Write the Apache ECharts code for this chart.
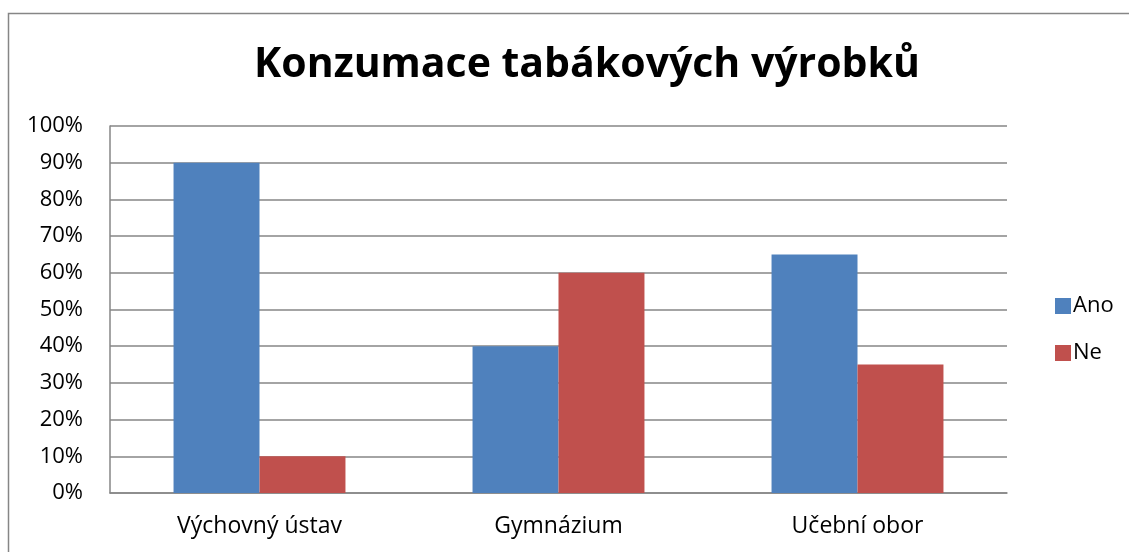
<!DOCTYPE html>
<html>
<head>
<meta charset="utf-8">
<script src="https://cdn.jsdelivr.net/npm/echarts@6/dist/echarts.min.js"></script>
<style>
  html, body { margin: 0; padding: 0; background: #fff; }
</style>
</head>
<body>
<div id="main" style="width: 1129px; height: 552px"></div>
<script>
var categories = ["Výchovný ústav", "Gymnázium", "Učební obor"];
var anoValues = [90, 40, 65];
var neValues = [10, 60, 35];
var yTicks = [0, 10, 20, 30, 40, 50, 60, 70, 80, 90, 100];

var chart = echarts.init(document.getElementById("main"));
var font = "'Open Sans', sans-serif";

var option = {
  animation: false,
  backgroundColor: "#fff",
  graphic: [
    {
      type: "rect",
      shape: { x: 8.5, y: 13.5, width: 1130, height: 560 },
      style: { fill: "none", stroke: "#868686", lineWidth: 1.5 },
      silent: true,
    },
  ],
  title: {
    text: "Konzumace tabákových výrobků",
    left: 582,
    textAlign: "center",
    top: 40,
    textStyle: {
      fontFamily: font,
      fontWeight: "bold",
      fontSize: 41,
      color: "#000",
    },
  },
  legend: {
    orient: "vertical",
    left: 1050,
    top: 290,
    itemWidth: 16,
    itemHeight: 16,
    itemGap: 25,
    icon: "rect",
    textStyle: { fontFamily: font, fontSize: 22, color: "#000", padding: [0, 0, 0, -3] },
    data: ["Ano", "Ne"],
  },
  grid: {
    left: 110,
    top: 126,
    width: 897,
    height: 367,
    containLabel: false,
  },
  xAxis: {
    type: "category",
    data: categories,
    axisLine: { show: true, lineStyle: { color: "#868686", width: 1.5 } },
    axisTick: { show: false },
    axisLabel: {
      fontFamily: font,
      fontSize: 23,
      color: "#000",
      margin: 22,
    },
  },
  yAxis: {
    type: "value",
    min: yTicks[0],
    max: yTicks[yTicks.length - 1],
    interval: 10,
    axisLine: { show: true, lineStyle: { color: "#868686", width: 1.5 } },
    axisTick: { show: false },
    splitLine: { show: true, lineStyle: { color: "#868686", width: 1.5 } },
    axisLabel: {
      formatter: "{value}%",
      fontFamily: font,
      fontSize: 22,
      color: "#000",
      margin: 27,
    },
  },
  series: [
    {
      name: "Ano",
      type: "bar",
      data: anoValues,
      barGap: "0%",
      barCategoryGap: "42.5%",
      itemStyle: { color: "#4f81bd" },
    },
    {
      name: "Ne",
      type: "bar",
      data: neValues,
      itemStyle: { color: "#c0504d" },
    },
  ],
};

chart.setOption(option);
</script>
</body>
</html>
